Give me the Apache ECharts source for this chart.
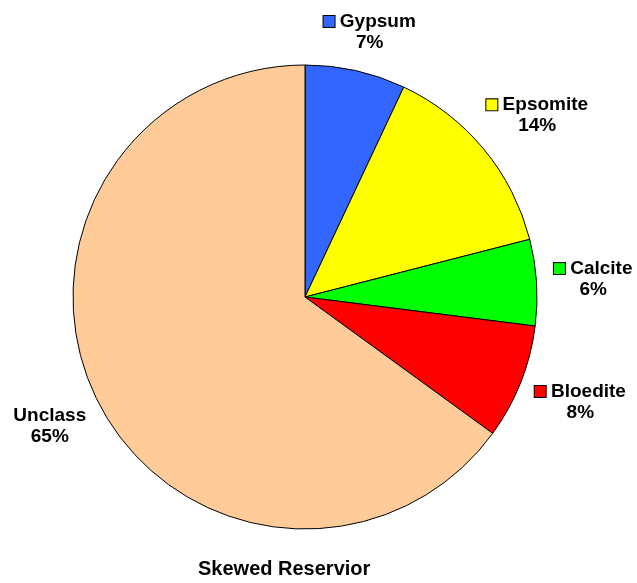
<!DOCTYPE html>
<html>
<head>
<meta charset="utf-8">
<title>Skewed Reservior</title>
<script src="https://cdn.jsdelivr.net/npm/echarts@6/dist/echarts.min.js"></script>
<style>
  html, body { margin: 0; padding: 0; background: #ffffff; }
  #chart { width: 637px; height: 583px; }
</style>
</head>
<body>
<div id="chart"></div>
<script>
// Mineral share in the skewed reservoir
const categories = ['Gypsum', 'Epsomite', 'Calcite', 'Bloedite', 'Unclass'];
const percents = [7, 14, 6, 8, 65];
const chartTitle = 'Skewed Reservior';

// Slice fill colours, and whether a slice label carries a colour key
const sliceColors = ['#3366FF', '#FFFF00', '#00FF00', '#FF0000', '#FFCC99'];
const labelKeys = [true, true, true, true, false];

// Pie geometry
const CX = 305, CY = 297, R = 232;
const GAP_X = 18;   // horizontal clearance between rim and label box
const RADIUS_Y = 285; // vertical distance of label centres from the pie centre
const FONT = '"Liberation Sans", Arial, sans-serif';

const total = percents.reduce((a, b) => a + b, 0);

// Rich text styles: one key box per coloured slice
const rich = {
  name: { fontFamily: FONT, fontWeight: 'bold', fontSize: 19, color: '#000', lineHeight: 21, align: 'center' },
  pct: { fontFamily: FONT, fontWeight: 'bold', fontSize: 19, color: '#000', lineHeight: 21, align: 'center' }
};
sliceColors.forEach((c, i) => {
  rich['k' + i] = {
    width: 11, height: 11, backgroundColor: c,
    borderColor: '#000', borderWidth: 1, align: 'center', verticalAlign: 'middle'
  };
});

const seriesData = categories.map((name, i) => ({
  name: name,
  value: percents[i],
  itemStyle: { color: sliceColors[i] }
}));

// Place each label just outside its slice, along the slice's mid angle
function placeLabel(params) {
  const i = params.dataIndex;
  let before = 0;
  for (let k = 0; k < i; k++) before += percents[k];
  const mid = (before + percents[i] / 2) / total * Math.PI * 2;
  const ux = Math.sin(mid), uy = -Math.cos(mid);
  const w = params.labelRect.width, h = params.labelRect.height;
  let x = CX + (R + GAP_X) * ux + ux * w / 2;
  let y = CY + RADIUS_Y * uy;
  y = Math.max(y, h / 2 + 12);
  x = Math.min(x, 637 - w / 2 - 4);
  x = Math.max(x, w / 2 + 4);
  return { x: x, y: y, align: 'center', verticalAlign: 'middle' };
}

const chart = echarts.init(document.getElementById('chart'), null, { renderer: 'canvas' });
chart.setOption({
  animation: false,
  backgroundColor: '#ffffff',
  title: {
    text: chartTitle,
    left: 198,
    top: 559,
    padding: 0,
    textStyle: { fontFamily: FONT, fontWeight: 'bold', fontSize: 20, color: '#000' }
  },
  series: [{
    type: 'pie',
    center: [CX, CY],
    radius: R,
    startAngle: 90,
    clockwise: true,
    avoidLabelOverlap: false,
    silent: true,
    data: seriesData,
    itemStyle: { borderColor: '#000', borderWidth: 1 },
    emphasis: { disabled: true },
    labelLine: { show: false },
    label: {
      show: true,
      position: 'outside',
      formatter: (p) => {
        const i = p.dataIndex;
        const key = labelKeys[i] ? '{k' + i + '|}{name| ' + p.name + '}' : '{name|' + p.name + '}';
        return key + '\n{pct|' + p.value + '%}';
      },
      rich: rich
    },
    labelLayout: placeLabel
  }]
});
</script>
</body>
</html>
